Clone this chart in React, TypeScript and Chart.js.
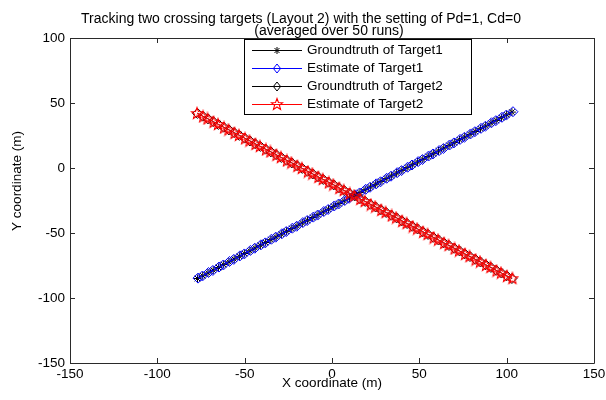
import { useEffect, useRef } from "react";
import { Chart, registerables } from "chart.js";

Chart.register(...registerables);

// ---------- data ----------
const truthX = [-77, -74, -71, -68, -65, -62, -59, -56, -53, -50, -47, -44, -41, -38, -35, -32, -29, -26, -23, -20, -17, -14, -11, -8, -5, -2, 1, 4, 7, 10, 13, 16, 19, 22, 25, 28, 31, 34, 37, 40, 43, 46, 49, 52, 55, 58, 61, 64, 67, 70, 73, 76, 79, 82, 85, 88, 91, 94, 97, 100, 103];

const truthY1 = [-85.0, -82.9, -80.7, -78.6, -76.5, -74.3, -72.2, -70.1, -67.9, -65.8, -63.7, -61.5, -59.4, -57.3, -55.1, -53.0, -50.9, -48.7, -46.6, -44.5, -42.3, -40.2, -38.1, -35.9, -33.8, -31.7, -29.5, -27.4, -25.3, -23.1, -21.0, -18.9, -16.7, -14.6, -12.5, -10.3, -8.2, -6.1, -3.9, -1.8, 0.3, 2.5, 4.6, 6.7, 8.9, 11.0, 13.1, 15.3, 17.4, 19.5, 21.7, 23.8, 25.9, 28.1, 30.2, 32.3, 34.5, 36.6, 38.7, 40.9, 43.0];

const estX1 = [-76.7, -74.2, -70.7, -68.2, -64.7, -62.2, -58.7, -56.2, -52.7, -50.2, -46.7, -44.2, -40.7, -38.2, -34.7, -32.2, -28.7, -26.2, -22.7, -20.2, -16.7, -14.2, -10.7, -8.2, -4.7, -2.2, 1.3, 3.8, 7.3, 9.8, 13.3, 15.8, 19.3, 21.8, 25.3, 27.8, 31.3, 33.8, 37.3, 39.8, 43.3, 45.8, 49.3, 51.8, 55.3, 57.8, 61.3, 63.8, 67.3, 69.8, 73.3, 75.8, 79.3, 81.8, 85.3, 87.8, 91.3, 93.8, 97.3, 99.8, 103.6];

const estY1 = [-84.7, -83.1, -80.4, -78.8, -76.2, -74.6, -71.9, -70.3, -67.6, -66.1, -63.4, -61.7, -59.1, -57.6, -54.8, -53.2, -50.6, -48.9, -46.3, -44.8, -42.0, -40.4, -37.8, -36.2, -33.5, -31.9, -29.2, -27.7, -25.0, -23.3, -20.7, -19.2, -16.4, -14.8, -12.2, -10.6, -7.9, -6.3, -3.6, -2.0, 0.6, 2.3, 4.9, 6.5, 9.2, 10.8, 13.4, 15.0, 17.7, 19.3, 22.0, 23.6, 26.2, 27.9, 30.5, 32.1, 34.8, 36.4, 39.0, 40.7, 43.3];

const truthY2 = [42.0, 39.9, 37.8, 35.7, 33.5, 31.4, 29.3, 27.2, 25.1, 23.0, 20.8, 18.7, 16.6, 14.5, 12.4, 10.3, 8.1, 6.0, 3.9, 1.8, -0.3, -2.5, -4.6, -6.7, -8.8, -10.9, -13.0, -15.2, -17.3, -19.4, -21.5, -23.6, -25.7, -27.9, -30.0, -32.1, -34.2, -36.3, -38.4, -40.6, -42.7, -44.8, -46.9, -49.0, -51.1, -53.3, -55.4, -57.5, -59.6, -61.7, -63.8, -66.0, -68.1, -70.2, -72.3, -74.4, -76.5, -78.7, -80.8, -82.9, -85.0];

const estX2 = [-77.3, -73.8, -71.3, -67.8, -65.3, -61.8, -59.3, -55.8, -53.3, -49.8, -47.3, -43.8, -41.3, -37.8, -35.3, -31.8, -29.3, -25.8, -23.3, -19.8, -17.3, -13.8, -11.3, -7.8, -5.3, -1.8, 0.7, 4.2, 6.7, 10.2, 12.7, 16.2, 18.7, 22.2, 24.7, 28.2, 30.7, 34.2, 36.7, 40.2, 42.7, 46.2, 48.7, 52.2, 54.7, 58.2, 60.7, 64.2, 66.7, 70.2, 72.7, 76.2, 78.7, 82.2, 84.7, 88.2, 90.7, 94.2, 96.7, 100.2, 103.3];

const estY2 = [42.3, 39.7, 38.1, 35.5, 33.8, 31.2, 29.6, 27.0, 25.4, 22.8, 21.1, 18.5, 16.9, 14.3, 12.7, 10.1, 8.4, 5.8, 4.2, 1.6, 0.0, -2.7, -4.3, -6.9, -8.5, -11.1, -12.7, -15.4, -17.0, -19.6, -21.2, -23.8, -25.4, -28.1, -29.7, -32.3, -33.9, -36.5, -38.1, -40.8, -42.4, -45.0, -46.6, -49.2, -50.8, -53.5, -55.1, -57.7, -59.3, -61.9, -63.5, -66.2, -67.8, -70.4, -72.0, -74.6, -76.2, -78.9, -80.5, -83.1, -84.7];

const xTicks = [-150, -100, -50, 0, 50, 100, 150];
const yTicks = [-150, -100, -50, 0, 50, 100];

const titleLines = [
  "Tracking two crossing targets (Layout 2) with the setting of Pd=1, Cd=0",
  "(averaged over 50 runs)",
];
const xTitle = "X coordinate (m)";
const yTitle = "Y coordinate (m)";
const legendLabels = [
  "Groundtruth of Target1",
  "Estimate of Target1",
  "Groundtruth of Target2",
  "Estimate of Target2",
];

// ---------- styling ----------
const FONT = '"Liberation Sans", Arial, sans-serif';
const FS = 13.5;
const FS_TITLE = 14;
const BLUE = "#0000ff";
const RED = "#ff0000";
const BLACK = "#000000";

function pts(xs: number[], ys: number[]) {
  return xs.map((x, i) => ({ x, y: ys[i] }));
}

function pentagramPath(ctx: CanvasRenderingContext2D, cx: number, cy: number, ro: number, ri: number) {
  ctx.beginPath();
  for (let k = 0; k < 10; k++) {
    const r = k % 2 === 0 ? ro : ri;
    const a = -Math.PI / 2 + (k * Math.PI) / 5;
    const px = cx + r * Math.cos(a);
    const py = cy + r * Math.sin(a);
    if (k === 0) ctx.moveTo(px, py);
    else ctx.lineTo(px, py);
  }
  ctx.closePath();
}

function makePentagram(color: string) {
  const c = document.createElement("canvas");
  c.width = 14;
  c.height = 14;
  const g = c.getContext("2d")!;
  g.strokeStyle = color;
  g.lineWidth = 1.1;
  pentagramPath(g, 7, 7.5, 6, 2.5);
  g.stroke();
  return c;
}

function drawAsterisk(ctx: CanvasRenderingContext2D, x: number, y: number, r: number) {
  ctx.beginPath();
  ctx.moveTo(x - r, y);
  ctx.lineTo(x + r, y);
  ctx.moveTo(x, y - r);
  ctx.lineTo(x, y + r);
  const d = r * Math.SQRT1_2;
  ctx.moveTo(x - d, y - d);
  ctx.lineTo(x + d, y + d);
  ctx.moveTo(x - d, y + d);
  ctx.lineTo(x + d, y - d);
  ctx.stroke();
}

function drawDiamond(ctx: CanvasRenderingContext2D, x: number, y: number, r: number) {
  ctx.beginPath();
  ctx.moveTo(x, y - r);
  ctx.lineTo(x + r * 0.8, y);
  ctx.lineTo(x, y + r);
  ctx.lineTo(x - r * 0.8, y);
  ctx.closePath();
  ctx.stroke();
}

const framePlugin = {
  id: "matlabFrame",
  afterDatasetsDraw(chart: any) {
    const { ctx, chartArea: a, scales } = chart;
    const xs = scales.x;
    const ys = scales.y;
    ctx.save();
    ctx.strokeStyle = "#2a2a2a";
    ctx.lineWidth = 1;
    ctx.beginPath();
    ctx.rect(Math.round(a.left) + 0.5, Math.round(a.top) + 0.5, Math.round(a.right - a.left), Math.round(a.bottom - a.top));
    ctx.stroke();
    const tl = 5;
    ctx.beginPath();
    xTicks.forEach((v) => {
      const px = Math.round(xs.getPixelForValue(v)) + 0.5;
      ctx.moveTo(px, a.bottom);
      ctx.lineTo(px, a.bottom - tl);
      ctx.moveTo(px, a.top);
      ctx.lineTo(px, a.top + tl);
    });
    yTicks.forEach((v) => {
      const py = Math.round(ys.getPixelForValue(v)) + 0.5;
      ctx.moveTo(a.left, py);
      ctx.lineTo(a.left + tl, py);
      ctx.moveTo(a.right, py);
      ctx.lineTo(a.right - tl, py);
    });
    ctx.stroke();
    ctx.restore();
  },
  afterDraw(chart: any) {
    const { ctx, chartArea: a } = chart;
    ctx.save();
    ctx.fillStyle = BLACK;
    ctx.font = `${FS_TITLE}px ${FONT}`;
    ctx.textAlign = "center";
    ctx.textBaseline = "middle";
    // title
    ctx.fillText(titleLines[0], 301, 19);
    ctx.fillText(titleLines[1], 329, 31);
    // axis titles
    ctx.font = `${FS}px ${FONT}`;
    ctx.fillText(xTitle, (a.left + a.right) / 2, a.bottom + 20);
    ctx.save();
    ctx.translate(17, 181);
    ctx.rotate(-Math.PI / 2);
    ctx.fillText(yTitle, 0, 0);
    ctx.restore();

    // legend
    const bx = 244.5, by = 39.5, bw = 227, bh = 75;
    ctx.fillStyle = "#ffffff";
    ctx.fillRect(bx, by, bw, bh);
    ctx.strokeStyle = BLACK;
    ctx.lineWidth = 1;
    ctx.strokeRect(bx, by, bw, bh);
    const colors = [BLACK, BLUE, BLACK, RED];
    const pent = makePentagram(RED);
    ctx.textAlign = "left";
    legendLabels.forEach((lab, i) => {
      const cy = Math.round(49.5 + i * 18.3) + 0.5;
      ctx.strokeStyle = colors[i];
      ctx.beginPath();
      ctx.moveTo(252, cy);
      ctx.lineTo(302, cy);
      ctx.stroke();
      if (i === 0) drawAsterisk(ctx, 277, cy, 3.5);
      else if (i === 1 || i === 2) {
        drawDiamond(ctx, 277, cy, 4.5);
      } else {
        ctx.drawImage(pent, 277 - 7, cy - 7.5);
      }
      ctx.fillStyle = BLACK;
      ctx.fillText(lab, 307, cy);
    });
    ctx.restore();
  },
};

export default function App() {
  const ref = useRef<HTMLCanvasElement | null>(null);

  useEffect(() => {
    if (!ref.current) return;
    const pent = makePentagram(RED);
    const chart = new Chart(ref.current, {
      type: "scatter",
      data: {
        datasets: [
          {
            label: legendLabels[0],
            data: pts(truthX, truthY1),
            showLine: true,
            borderColor: BLACK,
            borderWidth: 1,
            pointStyle: "star",
            pointRadius: 4,
            pointBorderColor: BLACK,
            pointBorderWidth: 1,
            pointBackgroundColor: BLACK,
            order: 4,
          },
          {
            label: legendLabels[1],
            data: pts(estX1, estY1),
            showLine: true,
            borderColor: BLUE,
            borderWidth: 1,
            pointStyle: "rectRot",
            pointRadius: 5,
            pointBorderColor: BLUE,
            pointBorderWidth: 1,
            pointBackgroundColor: "rgba(0,0,0,0)",
            order: 3,
          },
          {
            label: legendLabels[2],
            data: pts(truthX, truthY2),
            showLine: true,
            borderColor: BLACK,
            borderWidth: 1,
            pointStyle: "rectRot",
            pointRadius: 5,
            pointBorderColor: BLACK,
            pointBorderWidth: 1,
            pointBackgroundColor: "rgba(0,0,0,0)",
            order: 2,
          },
          {
            label: legendLabels[3],
            data: pts(estX2, estY2),
            showLine: true,
            borderColor: RED,
            borderWidth: 1,
            pointStyle: pent as any,
            pointRadius: 6,
            pointBorderColor: RED,
            pointBackgroundColor: "rgba(0,0,0,0)",
            order: 1,
          },
        ],
      },
      options: {
        animation: false,
        responsive: false,
        maintainAspectRatio: false,
        layout: { padding: { top: 38, right: 12, left: 0, bottom: 0 } },
        plugins: {
          legend: { display: false },
          tooltip: { enabled: false },
          title: { display: false },
        },
        scales: {
          x: {
            type: "linear",
            min: -150,
            max: 150,
            grid: { display: false, drawTicks: false },
            border: { display: false },
            ticks: {
              color: BLACK,
              font: { family: FONT, size: FS },
              padding: 3,
              autoSkip: false,
              maxRotation: 0,
            },
            afterBuildTicks: (s: any) => {
              s.ticks = xTicks.map((v) => ({ value: v }));
            },
            afterFit: (s: any) => {
              s.height = 37;
              s.paddingLeft = 0;
              s.paddingRight = 0;
            },
          },
          y: {
            type: "linear",
            min: -150,
            max: 100,
            grid: { display: false, drawTicks: false },
            border: { display: false },
            ticks: {
              color: BLACK,
              font: { family: FONT, size: FS },
              padding: 5,
              autoSkip: false,
            },
            afterBuildTicks: (s: any) => {
              s.ticks = yTicks.map((v) => ({ value: v }));
            },
            afterFit: (s: any) => {
              s.width = 70;
              s.paddingTop = 0;
              s.paddingBottom = 0;
            },
          },
        },
      },
      plugins: [framePlugin],
    });
    return () => chart.destroy();
  }, []);

  return (
    <div style={{ position: "absolute", left: 0, top: 0, width: 606, height: 400, background: "#fff" }}>
      <canvas ref={ref} width={606} height={400} style={{ display: "block" }} />
    </div>
  );
}
